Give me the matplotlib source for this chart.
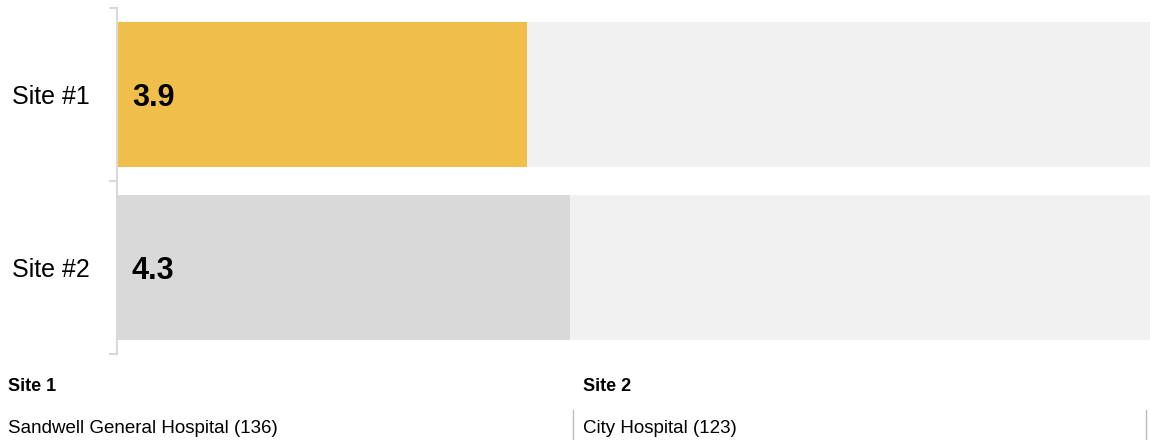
import matplotlib
matplotlib.use("Agg")
import matplotlib.pyplot as plt
from matplotlib.lines import Line2D

plt.rcParams["font.family"] = ["Liberation Sans", "DejaVu Sans"]

# scores per site, out of a 10 point scale
sites = ["Site #1", "Site #2"]
scores = [3.9, 4.3]
scale_max = 10
bar_colors = ["#f0be4a", "#d9d9d9"]

# key below the chart
key_headers = ["Site 1", "Site 2"]
key_names = ["Sandwell General Hospital (136)", "City Hospital (123)"]

W, H = 1150, 440
fig = plt.figure(figsize=(W / 100, H / 100), dpi=100)
ax = fig.add_axes([116.5 / W, (H - 354) / H, 1 - 116.5 / W, 346 / H])

pos = list(range(len(sites)))
ax.barh(pos, [scale_max] * len(sites), height=0.84, color="#f1f1f1", zorder=1)
ax.barh(pos, scores, height=0.84, color=bar_colors, zorder=2)

for p, v in zip(pos, scores):
    ax.annotate(f"{v:.1f}", xy=(0, p), xytext=(11, 0), textcoords="offset points",
                ha="left", va="center_baseline", fontsize=22, fontweight="bold",
                color="black", zorder=3)

ax.set_xlim(0, (W - 116.5) / 105.35)
ax.set_ylim(len(sites) - 0.5, -0.5)

for side in ("top", "right", "bottom"):
    ax.spines[side].set_visible(False)
ax.spines["left"].set_color("#d9d9d9")
ax.spines["left"].set_linewidth(1.5)
ax.set_xticks([])

ax.set_yticks(pos)
ax.set_yticklabels(sites, fontsize=18)
ax.tick_params(axis="y", which="major", length=0, pad=19)
ax.set_yticks([p - 0.5 for p in pos] + [pos[-1] + 0.5], minor=True)
ax.tick_params(axis="y", which="minor", length=6, width=1.5, color="#d9d9d9")

# key table
col_x = [8, 583]
for x, head, name in zip(col_x, key_headers, key_names):
    fig.text(x / W, (H - 386) / H, head, fontsize=13, fontweight="bold",
             ha="left", va="center")
    fig.text(x / W, (H - 428) / H, name, fontsize=13.5, ha="left", va="center")

for x in (573, 1146):
    fig.add_artist(Line2D([x / W, x / W], [0, (H - 410) / H],
                          color="#bbbbbb", linewidth=1))

fig.savefig("out.png", dpi=100)
